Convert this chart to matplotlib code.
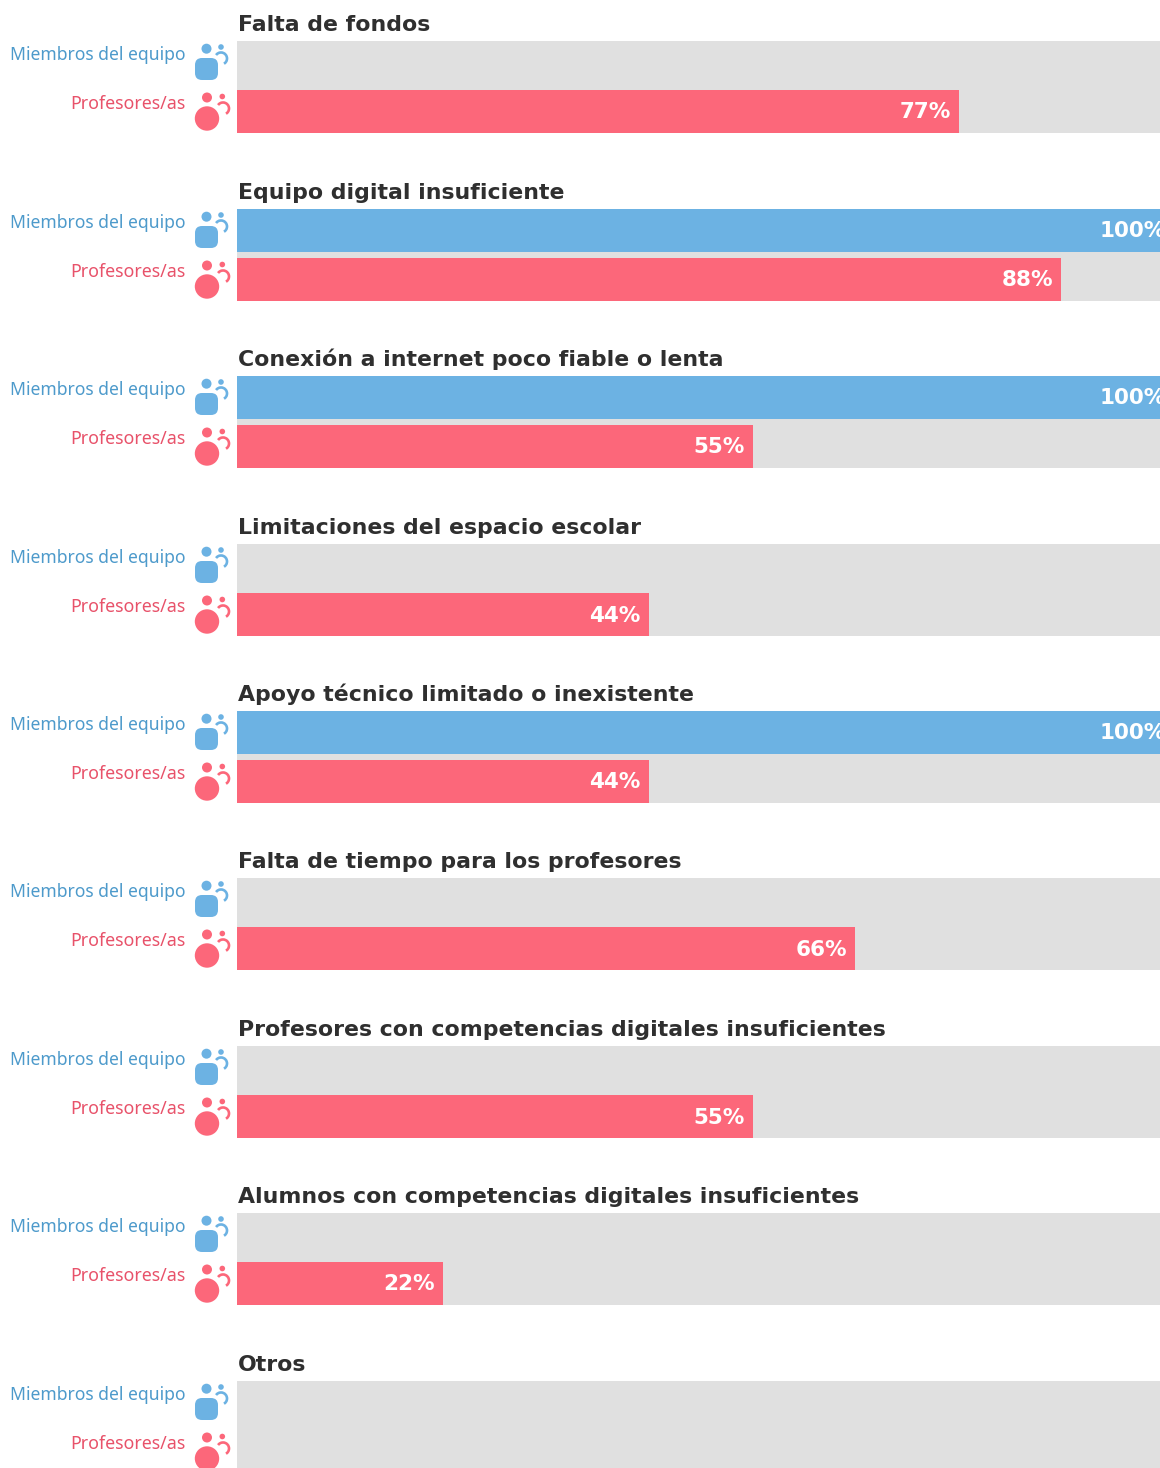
import matplotlib
matplotlib.use('Agg')
import matplotlib.pyplot as plt
from matplotlib.patches import Circle, FancyBboxPatch, Arc

plt.rcParams['font.family'] = ['Noto Sans', 'DejaVu Sans']

categories = ['Falta de fondos', 'Equipo digital insuficiente',
              'Conexión a internet poco fiable o lenta',
              'Limitaciones del espacio escolar',
              'Apoyo técnico limitado o inexistente',
              'Falta de tiempo para los profesores',
              'Profesores con competencias digitales insuficientes',
              'Alumnos con competencias digitales insuficientes', 'Otros']
team_values = [None, 100, 100, None, 100, None, None, None, None]
# bars run a bit longer than the printed label
teacher_values = [78.2, 89.3, 55.9, 44.6, 44.6, 67.0, 55.9, 22.3, None]
teacher_labels = ['77%', '88%', '55%', '44%', '44%', '66%', '55%', '22%', None]
team_name = 'Miembros del equipo'
teacher_name = 'Profesores/as'

W, H = 1160, 1468
BLUE = '#6cb2e3'
RED = '#fc677a'
BLUE_TXT = '#4d9acb'
RED_TXT = '#e8526a'
GREY = '#e0e0e0'
TOPS = [41, 209, 376, 544, 711, 878, 1046, 1213, 1381]
BOLD = ['DejaVu Sans']

fig = plt.figure(figsize=(W / 100, H / 100), dpi=100, facecolor='white')
# overlay in pixel coordinates for the little icons and row labels
over = fig.add_axes([0, 0, 1, 1], zorder=5)
over.set_xlim(0, W)
over.set_ylim(H, 0)
over.axis('off')


def icon_team(top):
    over.add_patch(Circle((206.5, top + 7.7), 5, color=BLUE, lw=0))
    over.add_patch(FancyBboxPatch((202, top + 24), 9, 8, boxstyle='round,pad=7,rounding_size=7',
                                  color=BLUE, lw=0))
    over.add_patch(Circle((221, top + 6), 2.8, color=BLUE, lw=0))
    over.add_patch(Arc((221, top + 17.5), 12, 12, theta1=215, theta2=60, color=BLUE, lw=1.9))


def icon_teacher(top):
    over.add_patch(Circle((207, top + 56.5), 5, color=RED, lw=0))
    over.add_patch(Circle((207, top + 77.5), 12.2, color=RED, lw=0))
    over.add_patch(Circle((222.3, top + 55.5), 2.8, color=RED, lw=0))
    over.add_patch(Arc((223, top + 67.5), 12, 12, theta1=215, theta2=60, color=RED, lw=1.9))


for i, cat in enumerate(categories):
    top = TOPS[i]
    bottom = top + 92
    ax = fig.add_axes([237 / W, 1 - bottom / H, (W - 237) / W, 92 / H])
    ax.set_xlim(0, 100)
    ax.set_ylim(92, 0)
    ax.set_facecolor(GREY)
    for s in ax.spines.values():
        s.set_visible(False)
    ax.set_xticks([])
    ax.set_yticks([])
    if team_values[i] is not None:
        ax.barh(21.5, team_values[i], height=43, color=BLUE, lw=0)
        ax.annotate(f'{team_values[i]}%', (team_values[i], 21.5), xytext=(-60, -1),
                    textcoords='offset pixels', ha='left', va='center', color='white',
                    fontsize=15.5, fontweight='bold', family=BOLD)
    if teacher_values[i] is not None:
        ax.barh(70.5, teacher_values[i], height=43, color=RED, lw=0)
        ax.annotate(teacher_labels[i], (teacher_values[i], 70.5), xytext=(-8, -1),
                    textcoords='offset pixels', ha='right', va='center', color='white',
                    fontsize=15.5, fontweight='bold', family=BOLD)
    over.text(238, top - 10, cat, fontsize=15.8, fontweight='bold', color='#2f2f2f',
              ha='left', va='baseline', family=BOLD)
    over.text(185, top + 14, team_name, fontsize=12.6, color=BLUE_TXT, ha='right', va='center')
    over.text(185, top + 63, teacher_name, fontsize=12.8, color=RED_TXT, ha='right', va='center')
    icon_team(top)
    icon_teacher(top)

fig.savefig('out.png', dpi=100)
